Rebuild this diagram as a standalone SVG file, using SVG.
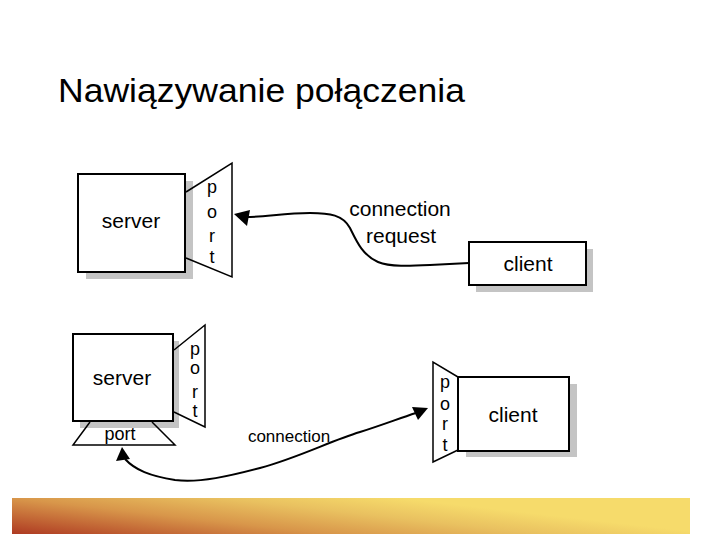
<svg xmlns="http://www.w3.org/2000/svg" width="720" height="540" viewBox="0 0 720 540">
<style>
.t{font-family:"Liberation Sans",Arial,sans-serif;fill:#000}
.lbl{font-size:21px;text-anchor:middle}
.pl{font-size:18px;text-anchor:middle}
.box{fill:#fff;stroke:#000;stroke-width:2}
.sh{fill:#c4c4c4}
.port{fill:none;stroke:#000;stroke-width:1.5}
.wire{fill:none;stroke:#000;stroke-width:2}
</style>
<defs>
<linearGradient id="bar" gradientUnits="userSpaceOnUse" x1="12" y1="534" x2="21" y2="455">
<stop offset="0" stop-color="#ae3a22"/>
<stop offset="0.45" stop-color="#d8964a"/>
<stop offset="0.75" stop-color="#e9c160"/>
<stop offset="1" stop-color="#f6db6b"/>
</linearGradient>
</defs>
<rect width="720" height="540" fill="#fff"/>
<text class="t" x="58" y="102" font-size="34" textLength="407" lengthAdjust="spacingAndGlyphs">Nawiązywanie połączenia</text>

<g id="server1">
<rect class="sh" x="86" y="181" width="107" height="98"/>
<polyline class="port" points="186,192 232,163 232,277 186,258"/>
<rect class="box" x="78" y="174" width="107" height="98"/>
<text class="t lbl" x="131" y="228">server</text>
<text class="t pl" x="212" y="193">p</text>
<text class="t pl" x="212" y="218">o</text>
<text class="t pl" x="212" y="242">r</text>
<text class="t pl" x="212" y="263">t</text>
</g>

<g id="client1">
<rect class="sh" x="476" y="249" width="117" height="43"/>
<rect class="box" x="469" y="242" width="117" height="43"/>
<text class="t lbl" x="528" y="271">client</text>
</g>

<g id="server2">
<rect class="sh" x="80" y="341" width="99" height="87"/>
<polyline class="port" points="174,350 205,325 205,427 174,412"/>
<polyline class="port" points="90,422 73,445 175,445 152,422"/>
<rect class="box" x="73" y="334" width="100" height="87"/>
<text class="t lbl" x="122" y="385">server</text>
<text class="t pl" x="195" y="355">p</text>
<text class="t pl" x="195" y="374">o</text>
<text class="t pl" x="195" y="398">r</text>
<text class="t pl" x="195" y="417">t</text>
<text class="t" x="120" y="440" font-size="18" text-anchor="middle">port</text>
</g>

<g id="client2">
<rect class="sh" x="466" y="384" width="111" height="73"/>
<polyline class="port" points="458,377 433,362 433,462 458,450"/>
<rect class="box" x="458" y="377" width="111" height="74"/>
<text class="t lbl" x="513" y="422">client</text>
<text class="t pl" x="445" y="388">p</text>
<text class="t pl" x="445" y="410">o</text>
<text class="t pl" x="445" y="430">r</text>
<text class="t pl" x="445" y="451">t</text>
</g>

<g id="connectors">
<path class="wire" d="M469,263 L430,265 C410,266 390,267 378,262 C362,255 356,240 350,228 C343,215 330,213 310,213 C285,213 265,217 246,217"/>
<polygon points="234,214 250,210 247,226" fill="#000"/>
<text class="t" x="400" y="216" font-size="21" text-anchor="middle">connection</text>
<text class="t" x="401" y="243" font-size="21" text-anchor="middle">request</text>

<path class="wire" d="M125,459 C135,470 150,476 175,480 C200,483 230,476 260,468 C300,457 330,441 360,432 C385,424 400,418 416,413"/>
<polygon points="122,447 116,461 130,459" fill="#000"/>
<polygon points="428,408 412,407 418,420" fill="#000"/>
<text class="t" x="289" y="442" font-size="17" text-anchor="middle">connection</text>
</g>

<rect x="12" y="498" width="678" height="36" fill="url(#bar)"/>
</svg>
